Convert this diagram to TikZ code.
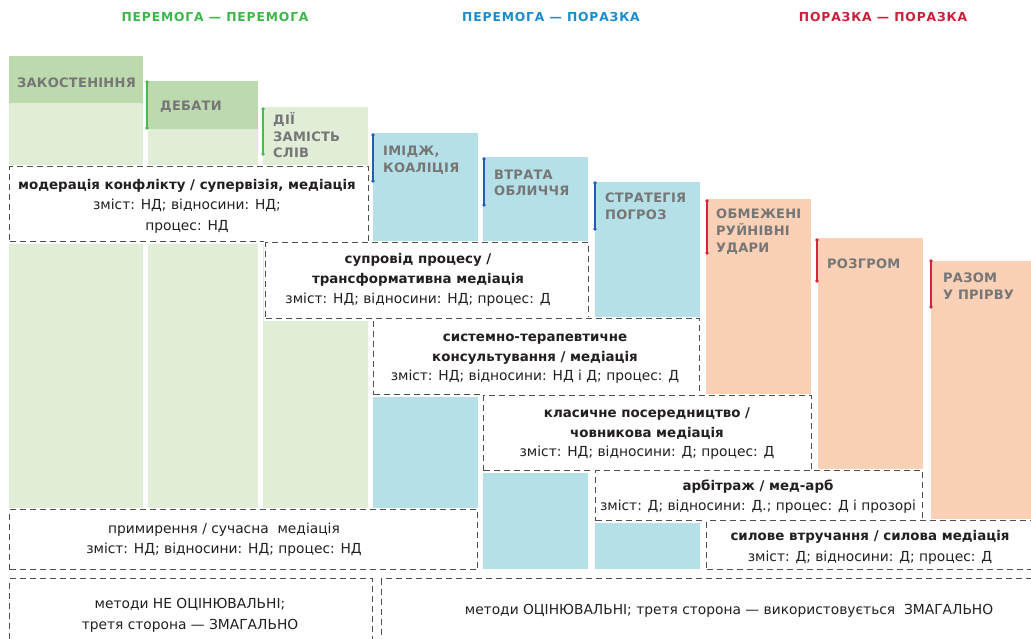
\documentclass[tikz,border=0pt]{standalone}
\usepackage{fontspec}
\setmainfont{DejaVu Sans}
\newfontfamily\hdrfont[LetterSpace=7]{DejaVu Sans}
\newfontfamily\lblfont[LetterSpace=2]{DejaVu Sans}
\definecolor{glight}{HTML}{E1EDD7}
\definecolor{gdark}{HTML}{BDDAAE}
\definecolor{blu}{HTML}{B5E0E8}
\definecolor{ora}{HTML}{FAD0B6}
\definecolor{gmark}{HTML}{4CB84F}
\definecolor{bmark}{HTML}{1F5FAF}
\definecolor{rmark}{HTML}{D0283A}
\definecolor{hgreen}{HTML}{3DB54A}
\definecolor{hblue}{HTML}{1A8BCB}
\definecolor{hred}{HTML}{C8203A}
\definecolor{lblgray}{HTML}{767676}
\definecolor{dashgray}{HTML}{4F4F4F}
\definecolor{txt}{HTML}{231F20}
\tikzset{
  box/.style={draw=dashgray, dash pattern=on 6pt off 4pt, line width=1.4pt, fill=white,
    inner sep=0pt, anchor=north west, preaction={draw=white, solid, line width=4pt}},
  bt/.style={font=\fontsize{13.4}{16}\selectfont\bfseries, text=txt, inner sep=0pt, anchor=base},
  rt/.style={font=\fontsize{13.8}{16}\selectfont, text=txt, inner sep=0pt, anchor=base},
  lb/.style={font=\lblfont\fontsize{13}{16}\selectfont\bfseries, text=lblgray, inner sep=0pt, anchor=base west},
  hd/.style={font=\hdrfont\fontsize{12.3}{14}\selectfont\bfseries, inner sep=0pt, anchor=base},
  mk/.style={line width=1.3pt},
}
\begin{document}
\begin{tikzpicture}[x=1pt,y=-1pt]
\useasboundingbox (0,0) rectangle (1031,638);
\clip (0,0) rectangle (1031,638);
% columns
\fill[glight] (9,56) rectangle (143,569);
\fill[gdark] (9,56) rectangle (143,103);
\fill[glight] (148,81) rectangle (258,569);
\fill[gdark] (148,81) rectangle (258,129);
\fill[glight] (263,107) rectangle (368,569);
\fill[blu] (373,133) rectangle (478,569);
\fill[blu] (483,157) rectangle (588,569);
\fill[blu] (595,182) rectangle (700,569);
\fill[ora] (706,199) rectangle (811,569);
\fill[ora] (818,238) rectangle (923,569);
\fill[ora] (931,261) rectangle (1031,569);
% boxes
\node (bmod) [box, minimum width=359pt, minimum height=75pt] at (9,166) {};
\node (bsup) [box, minimum width=323pt, minimum height=76pt] at (265,242) {};
\node (bsys) [box, minimum width=326pt, minimum height=76pt] at (373,318) {};
\node (bkla) [box, minimum width=328pt, minimum height=75pt] at (483,395) {};
\node (barb) [box, minimum width=327pt, minimum height=50pt] at (595,470) {};
\node (bsil) [box, minimum width=330pt, minimum height=49pt] at (706,520) {};
\node (bpry) [box, minimum width=468pt, minimum height=60pt] at (9,509) {};
\node (bnon) [box, minimum width=363pt, minimum height=80pt] at (9,578) {};
\node (bocn) [box, minimum width=660pt, minimum height=80pt] at (381,578) {};
% box texts
\node (t1a) [bt] at (187,189) {модерація конфлікту / супервізія, медіація};
\node (t1b) [rt] at (187,209) {зміст: НД; відносини: НД;};
\node (t1c) [rt] at (187,230) {процес: НД};
\node (t2a) [bt] at (418,263) {супровід процесу /};
\node (t2b) [bt] at (418,283) {трансформативна медіація};
\node (t2c) [rt] at (418,303) {зміст: НД; відносини: НД; процес: Д};
\node (t3a) [bt] at (535,341) {системно-терапевтичне};
\node (t3b) [bt] at (535,361) {консультування / медіація};
\node (t3c) [rt] at (535,380) {зміст: НД; відносини: НД і Д; процес: Д};
\node (t4a) [bt] at (647,417) {класичне посередництво /};
\node (t4b) [bt] at (647,437) {човникова медіація};
\node (t4c) [rt] at (647,456) {зміст: НД; відносини: Д; процес: Д};
\node (t5a) [bt] at (758,490) {арбітраж / мед-арб};
\node (t5b) [rt] at (758,510) {зміст: Д; відносини: Д.; процес: Д і прозорі};
\node (t6a) [bt] at (870,540) {силове втручання / силова медіація};
\node (t6b) [rt] at (870,561) {зміст: Д; відносини: Д; процес: Д};
\node (t7a) [rt] at (224,533) {примирення / сучасна\ \ медіація};
\node (t7b) [rt] at (224,553) {зміст: НД; відносини: НД; процес: НД};
\node (t8a) [rt] at (190,608) {методи НЕ ОЦІНЮВАЛЬНІ;};
\node (t8b) [rt] at (190,629) {третя сторона — ЗМАГАЛЬНО};
\node (t9a) [rt] at (729,614) {методи ОЦІНЮВАЛЬНІ; третя сторона — використовується\ \ ЗМАГАЛЬНО};
% column labels
\node (l1) [lb] at (17,87) {ЗАКОСТЕНІННЯ};
\node (l2) [lb] at (160,110) {ДЕБАТИ};
\node (l3a) [lb] at (273,124) {ДІЇ};
\node (l3b) [lb] at (273,141) {ЗАМІСТЬ};
\node (l3c) [lb] at (273,157) {СЛІВ};
\node (l4a) [lb] at (383,155) {ІМІДЖ,};
\node (l4b) [lb] at (383,172) {КОАЛІЦІЯ};
\node (l5a) [lb] at (494,179) {ВТРАТА};
\node (l5b) [lb] at (494,195) {ОБЛИЧЧЯ};
\node (l6a) [lb] at (605,202) {СТРАТЕГІЯ};
\node (l6b) [lb] at (605,219) {ПОГРОЗ};
\node (l7a) [lb] at (716,218) {ОБМЕЖЕНІ};
\node (l7b) [lb] at (716,235) {РУЙНІВНІ};
\node (l7c) [lb] at (716,252) {УДАРИ};
\node (l8) [lb] at (827,268) {РОЗГРОМ};
\node (l9a) [lb] at (943,282) {РАЗОМ};
\node (l9b) [lb] at (943,299) {У ПРІРВУ};
% markers
\coordinate (m2a) at (147,82);  \coordinate (m2b) at (147,128);
\coordinate (m3a) at (263,109); \coordinate (m3b) at (263,154);
\coordinate (m4a) at (373,135); \coordinate (m4b) at (373,181);
\coordinate (m5a) at (484,159); \coordinate (m5b) at (484,205);
\coordinate (m6a) at (595,183); \coordinate (m6b) at (595,229);
\coordinate (m7a) at (707,201); \coordinate (m7b) at (707,253);
\coordinate (m8a) at (817,240); \coordinate (m8b) at (817,281);
\coordinate (m9a) at (931,261); \coordinate (m9b) at (931,307);
\foreach \a/\b/\c in {m2a/m2b/gmark,m3a/m3b/gmark,m4a/m4b/bmark,m5a/m5b/bmark,m6a/m6b/bmark,m7a/m7b/rmark,m8a/m8b/rmark,m9a/m9b/rmark}{
  \draw[mk, draw=\c] (\a) -- (\b);
  \fill[\c] (\a) circle (1.9pt) (\b) circle (1.9pt);
}
% headers
\node (h1) [hd, text=hgreen] at (215,21) {ПЕРЕМОГА — ПЕРЕМОГА};
\node (h2) [hd, text=hblue] at (551,21) {ПЕРЕМОГА — ПОРАЗКА};
\node (h3) [hd, text=hred] at (883,21) {ПОРАЗКА — ПОРАЗКА};
\end{tikzpicture}
\end{document}
